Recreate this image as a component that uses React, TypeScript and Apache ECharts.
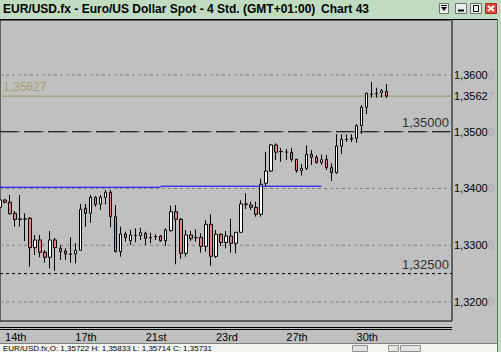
import React, { useEffect, useRef } from "react";
import * as echarts from "echarts";

// ---- data ----
const opens = [
  1.33669, 1.33797, 1.33757, 1.33563, 1.33463, 1.33463, 1.33475, 1.32957, 1.33093, 1.32876,
  1.32788, 1.33093, 1.32946, 1.32899, 1.32846, 1.32846, 1.32911, 1.33651, 1.33563, 1.33845,
  1.33722, 1.33845, 1.33933, 1.33503, 1.32886, 1.33198, 1.3308, 1.33175, 1.33168, 1.3321,
  1.33137, 1.33154, 1.33163, 1.3308, 1.33257, 1.33591, 1.33457, 1.32858, 1.33181, 1.33137,
  1.3314, 1.32981, 1.33369, 1.32805, 1.33193, 1.33048, 1.33163, 1.33034, 1.33228, 1.33727,
  1.33709, 1.33669, 1.33545, 1.34092, 1.34308, 1.34767, 1.34652, 1.34643, 1.34638, 1.34515,
  1.34314, 1.34356, 1.34603, 1.3455, 1.34455, 1.34515, 1.34367, 1.34278, 1.34749, 1.34867,
  1.34867, 1.34885, 1.35107, 1.35431, 1.35665, 1.35678, 1.35688, 1.35709,
];
const closes = [
  1.33797, 1.33757, 1.33556, 1.33454, 1.33454, 1.3346, 1.32957, 1.33093, 1.32876, 1.32788,
  1.33093, 1.32957, 1.32886, 1.32846, 1.3284, 1.32911, 1.33633, 1.33563, 1.33845, 1.33722,
  1.33845, 1.33933, 1.33503, 1.32886, 1.33198, 1.3314, 1.33181, 1.33168, 1.33221, 1.33122,
  1.33131, 1.33149, 1.3308, 1.33269, 1.33591, 1.33457, 1.32858, 1.33181, 1.33115, 1.33131,
  1.32981, 1.33369, 1.32805, 1.33193, 1.33048, 1.33163, 1.33034, 1.33228, 1.33727, 1.3372,
  1.33669, 1.33545, 1.34074, 1.34308, 1.34767, 1.34638, 1.34647, 1.34638, 1.34511, 1.34314,
  1.34356, 1.34603, 1.3455, 1.34455, 1.34506, 1.34367, 1.34278, 1.34749, 1.34867, 1.34862,
  1.34885, 1.35107, 1.35431, 1.35678, 1.3566, 1.35672, 1.35723, 1.35627,
];
const lows = [
  1.33533, 1.33739, 1.33542, 1.33327, 1.33327, 1.33075, 1.32622, 1.32828, 1.32788, 1.32692,
  1.32594, 1.32552, 1.3274, 1.3274, 1.32692, 1.32682, 1.32899, 1.33327, 1.33397, 1.33679,
  1.33621, 1.33722, 1.33316, 1.32876, 1.32798, 1.33063, 1.33004, 1.33052, 1.33093, 1.33004,
  1.33034, 1.33093, 1.33063, 1.32992, 1.33239, 1.32664, 1.32761, 1.32798, 1.33075, 1.33063,
  1.32869, 1.32886, 1.3264, 1.32775, 1.32987, 1.32946, 1.32869, 1.32858, 1.33225, 1.33639,
  1.33621, 1.33503, 1.33503, 1.34044, 1.34291, 1.34502, 1.34472, 1.34502, 1.34472, 1.34278,
  1.34229, 1.34326, 1.34414, 1.34441, 1.34414, 1.34326, 1.34132, 1.34255, 1.34608, 1.34825,
  1.34819, 1.34807, 1.3496, 1.35313, 1.356, 1.356, 1.356, 1.35595,
];
const highs = [
  1.33815, 1.33815, 1.33885, 1.33603, 1.33885, 1.33563, 1.33498, 1.33181, 1.33181, 1.32916,
  1.33251, 1.33128, 1.33004, 1.32946, 1.3314, 1.33034, 1.33727, 1.33727, 1.33885, 1.33868,
  1.33885, 1.33974, 1.33974, 1.33709, 1.33327, 1.33239, 1.33269, 1.33298, 1.33309, 1.33239,
  1.33221, 1.33193, 1.33181, 1.33298, 1.33697, 1.33709, 1.3348, 1.33269, 1.33251, 1.33281,
  1.3321, 1.33445, 1.33542, 1.33269, 1.3321, 1.33251, 1.33463, 1.33234, 1.33792, 1.33915,
  1.33767, 1.33767, 1.34173, 1.34643, 1.34784, 1.34796, 1.34714, 1.34696, 1.34714, 1.3452,
  1.34432, 1.34758, 1.34678, 1.3459, 1.34596, 1.3459, 1.34444, 1.34955, 1.34955, 1.34955,
  1.34955, 1.35131, 1.35471, 1.35692, 1.35877, 1.35776, 1.35753, 1.35841,
];

const slotCount = 91; // candle slots on the time axis (incl. empty right margin)
const dayLabels = ["14th", "17th", "21st", "23rd", "27th", "30th"];
const dayLabelSlots = [1, 15, 29, 43, 57, 71];
const gridLevels = [1.32, 1.33, 1.34, 1.35, 1.36];
const pivotLevel = 1.35;
const supportLevel = 1.325;
const currentPrice = 1.35627;
const blueLineLevels = [1.34022, 1.3404];
const blueLineSlots = [0, 32, 64];
const priceMin = 1.31665;
const priceMax = 1.36969;

const titleText = "EUR/USD.fx - Euro/US Dollar Spot - 4 Std. (GMT+01:00)";
const chartName = "Chart 43";
const statusText = "EUR/USD.fx,O: 1,35722 H: 1,35833 L: 1,35714 C: 1,35731";

const FONT = "'Liberation Sans', Arial, sans-serif";
const CLEAR = "rgba(0,0,0,0)";

function fmt5(v: number) {
  return v.toFixed(5).replace(".", ",");
}
function axisText(v: number) {
  const s = fmt5(v);
  return `{a|${s.slice(0, 6)}}{b|${s.slice(6)}}`;
}
const axisRich = {
  a: { color: "#000000", fontSize: 11, fontFamily: FONT },
  b: { color: "#a8a8a8", fontSize: 11, fontFamily: FONT },
};

export default function App() {
  const ref = useRef<HTMLDivElement>(null);

  useEffect(() => {
    document.body.style.margin = "0";
    if (!ref.current) return;
    const chart = echarts.init(ref.current, null, { renderer: "svg" });

    const categories = Array.from({ length: slotCount }, (_, i) => String(i));
    const candleData = opens.map((o, i) => [o, closes[i], lows[i], highs[i]]);
    const last = slotCount - 1;

    const gridSeries = gridLevels.map((v) => ({
      type: "line",
      data: [
        [0, v],
        [last, v],
      ],
      symbol: "none",
      silent: true,
      z: 1,
      lineStyle: { color: "#808080", width: 1, type: [3, 3] },
      endLabel: { show: true, formatter: () => axisText(v), rich: axisRich, distance: 2 },
    }));

    const levelLabel = (text: string) => ({
      show: true,
      position: "insideEndTop",
      formatter: text,
      color: "#303030",
      fontSize: 13,
      fontFamily: FONT,
      distance: 3,
    });

    const option: any = {
      animation: false,
      backgroundColor: "#c0c0c0",
      grid: {
        left: 0,
        top: 20,
        width: 452,
        height: 301,
        show: true,
        backgroundColor: "#c0c0c0",
        borderColor: "#000000",
        borderWidth: 1,
      },
      xAxis: {
        type: "category",
        data: categories,
        boundaryGap: false,
        axisLine: { show: false },
        axisTick: { show: false },
        splitLine: { show: false },
        axisLabel: {
          interval: (index: number) => dayLabelSlots.includes(index),
          formatter: (_v: string, index: number) => {
            const k = dayLabelSlots.indexOf(index);
            return k >= 0 ? dayLabels[k] : "";
          },
          align: "left",
          margin: 10,
          color: "#000000",
          fontSize: 11,
          fontFamily: FONT,
        },
      },
      yAxis: {
        type: "value",
        min: priceMin,
        max: priceMax,
        show: false,
        splitLine: { show: false },
      },
      series: [
        ...gridSeries,
        {
          type: "line",
          data: [
            [0, pivotLevel],
            [last, pivotLevel],
          ],
          symbol: "none",
          silent: true,
          z: 1,
          lineStyle: { color: "#000000", width: 1, type: [18, 6] },
          markLine: {
            symbol: ["none", "none"],
            silent: true,
            precision: 5,
            data: [{ yAxis: pivotLevel, lineStyle: { color: CLEAR }, label: levelLabel(fmt5(pivotLevel)) }],
          },
        },
        {
          type: "line",
          data: [
            [0, supportLevel],
            [last, supportLevel],
          ],
          symbol: "none",
          silent: true,
          z: 1,
          lineStyle: { color: "#000000", width: 1, type: [3, 3] },
          markLine: {
            symbol: ["none", "none"],
            silent: true,
            precision: 5,
            data: [{ yAxis: supportLevel, lineStyle: { color: CLEAR }, label: levelLabel(fmt5(supportLevel)) }],
          },
        },
        {
          type: "line",
          data: [
            [0, currentPrice],
            [last, currentPrice],
          ],
          symbol: "none",
          silent: true,
          z: 1,
          lineStyle: { color: "#9a9656", width: 1 },
          endLabel: { show: true, formatter: () => axisText(currentPrice), rich: axisRich, distance: 2 },
          markLine: {
            symbol: ["none", "none"],
            silent: true,
            precision: 5,
            data: [
              {
                yAxis: currentPrice,
                lineStyle: { color: CLEAR },
                label: {
                  show: true,
                  position: "insideStartTop",
                  formatter: fmt5(currentPrice),
                  color: "#a69e72",
                  fontSize: 12,
                  fontFamily: FONT,
                  distance: 3,
                },
              },
            ],
          },
        },
        {
          type: "candlestick",
          data: candleData,
          barWidth: 3,
          z: 3,
          silent: true,
          itemStyle: {
            color: "#ffffff",
            color0: "#f08080",
            borderColor: "#000000",
            borderColor0: "#000000",
            borderWidth: 1,
          },
        },
        {
          type: "line",
          data: [
            [blueLineSlots[0], blueLineLevels[0]],
            [blueLineSlots[1], blueLineLevels[0]],
          ],
          symbol: "none",
          silent: true,
          z: 4,
          lineStyle: { color: "#0000ff", width: 1 },
        },
        {
          type: "line",
          data: [
            [blueLineSlots[1], blueLineLevels[1]],
            [blueLineSlots[2], blueLineLevels[1]],
          ],
          symbol: "none",
          silent: true,
          z: 4,
          lineStyle: { color: "#0000ff", width: 1 },
        },
      ],
      graphic: [
        { type: "rect", shape: { x: 0, y: 0, width: 501, height: 19 }, style: { fill: "#c0dcc0" }, silent: true },
        {
          type: "text",
          x: 3,
          y: 3,
          style: { text: titleText, fill: "#000000", fontSize: 12, fontWeight: "bold", fontFamily: FONT, verticalAlign: "top" },
        },
        {
          type: "text",
          x: 321,
          y: 3,
          style: { text: chartName, fill: "#000000", fontSize: 12, fontWeight: "bold", fontFamily: FONT, verticalAlign: "top" },
        },
        // window buttons
        { type: "rect", shape: { x: 439.5, y: 3.5, width: 9, height: 10 }, style: { fill: "#ececec", stroke: "#707070", lineWidth: 1 } },
        { type: "line", shape: { x1: 441, y1: 5.5, x2: 447, y2: 5.5 }, style: { stroke: "#000", lineWidth: 1 } },
        { type: "polygon", shape: { points: [[441, 7], [447, 7], [444, 11]] }, style: { fill: "#000" } },
        { type: "rect", shape: { x: 455.5, y: 3.5, width: 11, height: 10 }, style: { fill: "#ececec", stroke: "#707070", lineWidth: 1 } },
        { type: "line", shape: { x1: 458, y1: 10.5, x2: 464, y2: 10.5 }, style: { stroke: "#000", lineWidth: 2 } },
        { type: "rect", shape: { x: 470.5, y: 3.5, width: 11, height: 10 }, style: { fill: "#ececec", stroke: "#707070", lineWidth: 1 } },
        { type: "rect", shape: { x: 473.5, y: 5.5, width: 5, height: 6 }, style: { fill: "none", stroke: "#000", lineWidth: 1 } },
        { type: "rect", shape: { x: 485.5, y: 3.5, width: 11, height: 10 }, style: { fill: "#e8442e", stroke: "#a03020", lineWidth: 1 } },
        { type: "line", shape: { x1: 488, y1: 6, x2: 494, y2: 11 }, style: { stroke: "#fff", lineWidth: 2 } },
        { type: "line", shape: { x1: 494, y1: 6, x2: 488, y2: 11 }, style: { stroke: "#fff", lineWidth: 2 } },
        // frame lines
        { type: "line", shape: { x1: 0, y1: 19.5, x2: 497, y2: 19.5 }, style: { stroke: "#000", lineWidth: 1 } },
        { type: "rect", shape: { x: 497, y: 0, width: 4, height: 352 }, style: { fill: "#c0dcc0" } },
        { type: "line", shape: { x1: 497.5, y1: 19, x2: 497.5, y2: 352 }, style: { stroke: "#5c7a5c", lineWidth: 1 } },
        { type: "line", shape: { x1: 0, y1: 327.5, x2: 452, y2: 327.5 }, style: { stroke: "#000", lineWidth: 1 } },
        { type: "line", shape: { x1: 0, y1: 329.5, x2: 452, y2: 329.5 }, style: { stroke: "#000", lineWidth: 1 } },
        // status bar
        { type: "rect", shape: { x: 0, y: 343, width: 497, height: 9 }, style: { fill: "#f2f2ee" } },
        { type: "line", shape: { x1: 0, y1: 343.5, x2: 497, y2: 343.5 }, style: { stroke: "#808080", lineWidth: 1 } },
        {
          type: "text",
          x: 3,
          y: 344,
          style: { text: statusText, fill: "#000000", fontSize: 8, fontFamily: FONT, verticalAlign: "top" },
        },
        { type: "rect", shape: { x: 352.5, y: 345.5, width: 15, height: 6 }, style: { fill: "#e4e4e4", stroke: "#909090", lineWidth: 1 } },
        { type: "rect", shape: { x: 388.5, y: 345.5, width: 10, height: 6 }, style: { fill: "#e4e4e4", stroke: "#909090", lineWidth: 1 } },
        { type: "rect", shape: { x: 400.5, y: 345.5, width: 20, height: 6 }, style: { fill: "#e4e4e4", stroke: "#909090", lineWidth: 1 } },
      ],
    };

    chart.setOption(option);
    return () => chart.dispose();
  }, []);

  return (
    <div
      ref={ref}
      style={{ position: "absolute", left: 0, top: 0, width: 501, height: 352, background: "#c0c0c0" }}
    />
  );
}
